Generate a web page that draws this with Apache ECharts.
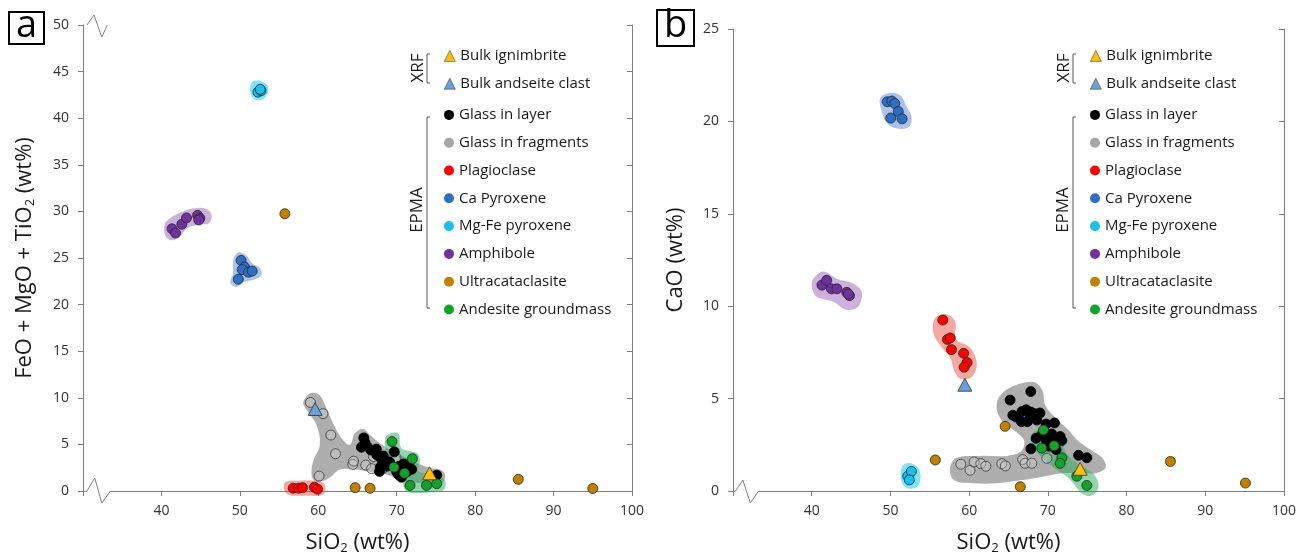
<!DOCTYPE html>
<html>
<head>
<meta charset="utf-8">
<script src="https://cdn.jsdelivr.net/npm/echarts@6/dist/echarts.min.js"></script>
<style>
  html, body { margin: 0; padding: 0; background: #fff; }
  #main { width: 1308px; height: 560px; }
</style>
</head>
<body>
<div id="main"></div>
<script>
// ---------- panel a : SiO2 vs FeO + MgO + TiO2 ----------
var a_ignimbrite    = [[74.2, 1.9]];
var a_andesiteClast = [[59.6, 8.8]];
var a_glassLayer = [[65.8, 5.7], [65.95, 5.2], [65.5, 4.7], [66.2, 4.8], [66.7, 4.4], [67.4, 4.5],
  [67.45, 3.9], [67.9, 3.6], [68.3, 3.75], [68.5, 3.25], [67.9, 2.55], [68.7, 2.65], [69.1, 3.1],
  [70.3, 2.65], [70.9, 2.9], [71.5, 2.65], [71.3, 2.05], [71.9, 2.33], [70.0, 2.05], [70.2, 1.77],
  [70.6, 1.48], [75.1, 1.7], [69.7, 4.2], [68.2, 3.0], [67.8, 2.1]];
var a_glassFrag = [[59.0, 9.5], [60.6, 8.3], [61.6, 6.0], [62.2, 4.0], [60.1, 1.6], [64.4, 2.85],
  [64.5, 3.2], [66.05, 2.78], [67.05, 3.7], [66.8, 2.4], [68.2, 2.4], [69.8, 3.4], [69.9, 3.6]];
var a_plag   = [[56.8, 0.3], [57.5, 0.3], [58.0, 0.35], [59.5, 0.4], [59.9, 0.2]];
var a_caPx   = [[50.16, 24.74], [50.6, 24.03], [50.3, 23.75], [51.1, 23.47], [51.57, 23.6], [49.8, 22.72]];
var a_mgFePx = [[52.3, 42.8], [52.7, 42.95], [52.6, 43.1]];
var a_amph   = [[41.35, 28.13], [41.8, 27.67], [42.6, 28.62], [43.2, 29.3], [44.6, 29.58], [44.9, 29.26], [44.76, 29.08]];
var a_ultra  = [[55.74, 29.75], [64.7, 0.36], [66.6, 0.29], [85.5, 1.25], [95.0, 0.27]];
var a_andGm  = [[69.4, 5.3], [69.65, 2.55], [71.0, 1.9], [72.0, 3.47], [71.7, 0.6], [73.8, 0.6], [75.1, 0.78]];

// outlines of the shaded fields, panel a
var a_hullGray = [[58.29, 9.9], [59.14, 10.53], [60.2, 10.25], [61.05, 8.84], [61.9, 7.25], [62.97, 5.66],
  [64.03, 4.95], [64.67, 6.19], [65.73, 6.65], [66.59, 6.01], [67.86, 5.13], [69.14, 4.42], [70.84, 3.71],
  [72.54, 3.01], [74.25, 2.48], [75.52, 2.3], [76.16, 1.77], [75.95, 1.0], [74.67, 0.71], [72.54, 0.89],
  [70.84, 1.06], [68.71, 1.77], [66.59, 2.05], [64.88, 2.3], [62.76, 2.3], [61.69, 1.59], [60.63, 1.06],
  [59.56, 1.06], [59.14, 1.77], [59.35, 3.18], [60.2, 4.95], [59.78, 7.07], [58.71, 8.48], [58.08, 9.37]];
var a_hullGreen = [[68.77, 6.01], [70.2, 6.19], [70.6, 4.6], [72.55, 4.07], [72.97, 3.18], [72.76, 2.12],
  [75.1, 1.77], [76.17, 1.06], [75.95, 0.07], [74.25, -0.17], [71.27, -0.07], [70.64, 1.06], [69.36, 2.12],
  [68.9, 3.54], [68.5, 4.95]];
var a_hullRed = [[55.6, 0.3], [55.9, 1.0], [57.5, 1.1], [59.5, 1.1], [60.6, 0.9], [60.9, 0.3], [60.6, -0.4], [58.5, -0.5], [56.2, -0.4]];
var a_hullBlue = [[49.2, 24.9], [49.8, 25.6], [50.8, 25.3], [51.6, 24.4], [52.6, 23.9], [52.7, 23.1], [51.5, 22.6],
  [50.4, 22.4], [49.6, 21.9], [48.8, 22.3], [49.1, 23.3]];
var a_hullCyan = [[51.3, 43.0], [51.6, 43.9], [52.6, 44.0], [53.5, 43.5], [53.6, 42.8], [52.9, 42.0], [51.8, 42.1]];
var a_hullPurple = [[40.4, 28.6], [41.0, 29.2], [42.5, 29.9], [44.0, 30.3], [45.6, 30.3], [46.4, 29.6], [46.0, 28.7],
  [44.8, 28.6], [43.3, 28.2], [42.3, 27.3], [41.3, 26.9], [40.5, 27.4]];

// ---------- panel b : SiO2 vs CaO ----------
var b_ignimbrite    = [[74.1, 1.2]];
var b_andesiteClast = [[59.45, 5.75]];
var b_glassLayer = [[67.83, 5.38], [65.2, 4.92], [65.55, 4.1], [65.97, 4.0], [66.7, 4.3], [67.24, 4.4],
  [67.84, 4.27], [67.75, 4.0], [68.38, 4.18], [69.0, 4.22], [66.65, 3.75], [67.4, 3.75], [68.6, 3.84],
  [69.78, 3.62], [70.84, 3.68], [70.5, 3.08], [71.56, 2.95], [71.78, 2.73], [69.78, 2.76], [68.5, 2.85],
  [67.84, 2.28], [70.2, 2.42], [71.05, 2.24], [73.9, 1.93], [74.95, 1.8], [69.23, 3.04], [70.7, 2.68]];
var b_glassFrag = [[58.94, 1.45], [60.12, 1.12], [60.63, 1.57], [61.48, 1.48], [62.12, 1.34], [64.15, 1.48],
  [64.6, 1.36], [66.8, 1.7], [67.1, 1.5], [67.96, 1.5], [69.87, 1.77]];
var b_plag   = [[56.65, 9.25], [57.24, 8.2], [57.6, 8.28], [57.75, 7.65], [59.3, 7.45], [59.74, 6.95], [59.36, 6.7]];
var b_caPx   = [[49.6, 21.06], [50.17, 21.1], [50.55, 20.97], [51.0, 20.53], [50.04, 20.18], [51.48, 20.14]];
var b_mgFePx = [[52.2, 0.8], [52.66, 1.06], [52.4, 0.6]];
var b_amph   = [[41.3, 11.14], [41.9, 11.4], [42.5, 10.94], [43.2, 10.94], [44.45, 10.75], [44.8, 10.57], [44.65, 10.66]];
var b_ultra  = [[55.7, 1.68], [64.57, 3.5], [66.5, 0.23], [85.57, 1.6], [95.1, 0.43]];
var b_andGm  = [[69.44, 3.3], [69.23, 2.32], [70.8, 2.45], [71.78, 1.8], [71.56, 1.5], [73.68, 0.8], [74.95, 0.3]];

var b_hullGray = [[63.72, 5.02], [65.21, 5.6], [68.17, 5.9], [69.3, 5.45], [69.7, 4.6], [71.14, 3.9],
  [72.62, 3.3], [73.68, 2.78], [75.38, 2.25], [76.9, 1.8], [77.35, 1.29], [76.22, 0.98], [74.11, 0.98],
  [71.56, 0.95], [69.02, 0.75], [66.48, 0.58], [63.51, 0.42], [60.55, 0.42], [58.1, 0.58], [57.55, 1.2],
  [58.35, 1.78], [61.39, 1.9], [64.78, 1.9], [66.6, 2.15], [67.0, 2.71], [66.1, 3.15], [64.4, 3.69], [63.55, 4.31]];
var b_hullGreen = [[68.39, 3.24], [70.29, 3.37], [71.78, 2.71], [72.41, 2.0], [74.11, 1.38], [75.8, 0.94],
  [76.44, 0.23], [75.59, -0.25], [74.32, -0.13], [73.26, 0.41], [72.2, 0.85], [70.93, 1.2], [69.45, 1.74],
  [68.17, 2.36], [67.84, 2.89]];
var b_hullRed = [[55.68, 9.36], [57.16, 9.57], [58.22, 9.18], [58.35, 8.21], [60.12, 7.76], [60.97, 6.88],
  [60.34, 6.17], [58.85, 6.08], [58.09, 6.52], [57.58, 7.23], [56.52, 7.76], [55.46, 8.56]];
var b_hullBlue = [[48.68, 21.24], [49.74, 21.52], [51.23, 21.42], [52.07, 20.79], [52.71, 20.17], [52.29, 19.68],
  [50.8, 19.61], [49.53, 19.91], [48.9, 20.53]];
var b_hullCyan = [[51.3, 0.9], [51.6, 1.4], [52.6, 1.5], [53.6, 1.2], [53.8, 0.6], [53.3, 0.2], [52.2, 0.15], [51.5, 0.4]];
var b_hullPurple = [[40.21, 11.49], [41.48, 11.88], [43.18, 11.49], [45.3, 11.22], [46.35, 10.78], [45.93, 9.98],
  [44.45, 9.8], [42.75, 10.24], [40.63, 10.51], [40.0, 11.04]];

var xTicks = [40, 50, 60, 70, 80, 90, 100];

var FONT = '"Open Sans", "Noto Sans", sans-serif';
var AXIS_GRAY = '#7f7f7f';

var chart = echarts.init(document.getElementById('main'));

function hull(grid, pts, color) {
  return {
    type: 'custom', xAxisIndex: grid * 2, yAxisIndex: grid * 2,
    z: 1, silent: true, clip: false,
    data: [pts[0]],
    renderItem: function (params, api) {
      var p = pts.map(function (d) { return api.coord(d); });
      return { type: 'polygon', shape: { points: p, smooth: 0.35 }, style: { fill: color } };
    }
  };
}

function dots(grid, name, data, color, border, symbol, size) {
  return {
    type: 'scatter', name: name, xAxisIndex: grid * 2, yAxisIndex: grid * 2,
    data: data, z: symbol === 'triangle' ? 6 : 4,
    symbol: symbol || 'circle', symbolSize: size || 10,
    itemStyle: { color: color, borderColor: border || '#262626', borderWidth: 0.8, opacity: 1 },
    emphasis: { disabled: true }
  };
}

function panelSeries(g, d) {
  return [
    hull(g, d.hullGray, 'rgba(110,110,110,0.56)'),
    hull(g, d.hullGreen, 'rgba(40,170,90,0.5)'),
    hull(g, d.hullRed, 'rgba(235,60,45,0.45)'),
    hull(g, d.hullBlue, 'rgba(60,110,200,0.42)'),
    hull(g, d.hullCyan, 'rgba(0,200,245,0.5)'),
    hull(g, d.hullPurple, 'rgba(130,70,170,0.42)'),
    dots(g, 'Glass in fragments', d.glassFrag, 'rgba(215,215,215,0.35)', '#3a3a3a'),
    dots(g, 'Glass in layer', d.glassLayer, '#000000', '#000000'),
    dots(g, 'Plagioclase', d.plag, '#ff0000'),
    dots(g, 'Ca Pyroxene', d.caPx, '#2e6fc6'),
    dots(g, 'Mg-Fe pyroxene', d.mgFePx, '#1cbfeb'),
    dots(g, 'Amphibole', d.amph, '#7030a0'),
    dots(g, 'Ultracataclasite', d.ultra, '#c08000'),
    dots(g, 'Andesite groundmass', d.andGm, '#14a32a'),
    dots(g, 'Bulk ignimbrite', d.ignimbrite, '#ffc000', '#333333', 'triangle', [14, 13]),
    dots(g, 'Bulk andseite clast', d.andesiteClast, '#6b9fd6', '#333333', 'triangle', [14, 13])
  ];
}

var series = panelSeries(0, {
  hullGray: a_hullGray, hullGreen: a_hullGreen, hullRed: a_hullRed, hullBlue: a_hullBlue,
  hullCyan: a_hullCyan, hullPurple: a_hullPurple, glassFrag: a_glassFrag, glassLayer: a_glassLayer,
  plag: a_plag, caPx: a_caPx, mgFePx: a_mgFePx, amph: a_amph, ultra: a_ultra, andGm: a_andGm,
  ignimbrite: a_ignimbrite, andesiteClast: a_andesiteClast
}).concat(panelSeries(1, {
  hullGray: b_hullGray, hullGreen: b_hullGreen, hullRed: b_hullRed, hullBlue: b_hullBlue,
  hullCyan: b_hullCyan, hullPurple: b_hullPurple, glassFrag: b_glassFrag, glassLayer: b_glassLayer,
  plag: b_plag, caPx: b_caPx, mgFePx: b_mgFePx, amph: b_amph, ultra: b_ultra, andGm: b_andGm,
  ignimbrite: b_ignimbrite, andesiteClast: b_andesiteClast
}));

var nameStyle = {
  fontFamily: FONT, fontSize: 22, color: '#1a1a1a',
  rich: { s: { fontFamily: FONT, fontSize: 13, color: '#1a1a1a', padding: [11, 0, 0, 0] } }
};
var labelStyle = { fontFamily: FONT, fontSize: 14, color: '#333', margin: 13 };

function xAxes(grid) {
  return [{
    type: 'value', gridIndex: grid, position: 'bottom', min: 30, max: 100, interval: 10,
    name: 'SiO{s|2} (wt%)', nameLocation: 'middle', nameGap: 40, nameTextStyle: nameStyle,
    axisLine: { lineStyle: { color: AXIS_GRAY } },
    axisTick: { show: true, length: 5, lineStyle: { color: AXIS_GRAY } },
    axisLabel: Object.assign({ formatter: function (v) { return xTicks.indexOf(v) >= 0 ? v : ''; } }, labelStyle),
    splitLine: { show: false }
  }, {
    type: 'value', gridIndex: grid, position: 'top', min: 30, max: 100, interval: 10,
    axisLine: { lineStyle: { color: AXIS_GRAY } },
    axisTick: { show: true, inside: true, length: 5, lineStyle: { color: AXIS_GRAY } },
    axisLabel: { show: false }, splitLine: { show: false }
  }];
}

function yAxes(grid, max, name) {
  return [{
    type: 'value', gridIndex: grid, position: 'left', min: 0, max: max, interval: 5,
    name: name, nameLocation: 'middle', nameGap: 46, nameTextStyle: nameStyle,
    axisLine: { show: true, lineStyle: { color: AXIS_GRAY } },
    axisTick: { show: true, length: 5, lineStyle: { color: AXIS_GRAY } },
    axisLabel: Object.assign({}, labelStyle, { margin: 14 }),
    splitLine: { show: false }
  }, {
    type: 'value', gridIndex: grid, position: 'right', min: 0, max: max, interval: 5,
    axisLine: { show: true, lineStyle: { color: AXIS_GRAY } },
    axisTick: { show: true, inside: true, length: 5, lineStyle: { color: AXIS_GRAY } },
    axisLabel: { show: false }, splitLine: { show: false }
  }];
}

var legendText = { fontFamily: FONT, fontSize: 15, color: '#1a1a1a', lineHeight: 27.8 };
var xrfItems = [
  { name: 'Bulk ignimbrite', icon: 'triangle', itemStyle: { borderWidth: 0.6, borderColor: '#444' } },
  { name: 'Bulk andseite clast', icon: 'triangle', itemStyle: { borderWidth: 0.6, borderColor: '#444' } }
];
var epmaItems = [
  { name: 'Glass in layer' },
  { name: 'Glass in fragments', itemStyle: { color: '#a6a6a6' } },
  { name: 'Plagioclase' }, { name: 'Ca Pyroxene' }, { name: 'Mg-Fe pyroxene' },
  { name: 'Amphibole' }, { name: 'Ultracataclasite' }, { name: 'Andesite groundmass' }
];

function legends(dx) {
  var base = {
    orient: 'vertical', padding: 0, itemGap: 0, itemWidth: 11, itemHeight: 11,
    selectedMode: false, textStyle: legendText, itemStyle: { borderWidth: 0 }
  };
  return [
    Object.assign({}, base, { left: 444 + dx, top: 42, data: xrfItems }),
    Object.assign({}, base, { left: 444 + dx, top: 101, itemWidth: 10, itemHeight: 10, data: epmaItems })
  ];
}

chart.setOption({
  animation: false,
  backgroundColor: '#fff',
  grid: [
    { left: 83, top: 25, width: 549, height: 472 },
    { left: 733, top: 29, width: 551, height: 470 }
  ],
  xAxis: xAxes(0).concat(xAxes(1)),
  yAxis: yAxes(0, 50, 'FeO + MgO + TiO{s|2} (wt%)').concat(yAxes(1, 25, 'CaO (wt%)')),
  legend: legends(0).concat(legends(646)),
  series: series
});

// decorations: axis breaks, group brackets, panel letters
function px(grid, x, y) {
  return chart.convertToPixel({ xAxisIndex: grid * 2, yAxisIndex: grid * 2 }, [x, y]);
}

function zigzag(grid, xs, yv, up, down) {
  var p0 = px(grid, xs[0], yv), p3 = px(grid, xs[3], yv);
  var p1 = px(grid, xs[1], yv), p2 = px(grid, xs[2], yv);
  return [{
    type: 'line', z: 100, silent: true,
    shape: { x1: p0[0], y1: p0[1], x2: p3[0], y2: p3[1] },
    style: { stroke: '#fff', lineWidth: 3 }
  }, {
    type: 'polyline', z: 101, silent: true,
    shape: { points: [[p0[0], p0[1]], [p1[0], p1[1] - up], [p2[0], p2[1] + down], [p3[0], p3[1]]] },
    style: { stroke: AXIS_GRAY, lineWidth: 1, fill: null }
  }];
}

function bracketGroup(dx) {
  var lineStyle = { stroke: '#555', lineWidth: 1, fill: null };
  return [
    { type: 'polyline', z: 100, silent: true, shape: { points: [[430 + dx, 54], [427 + dx, 54], [427 + dx, 83], [430 + dx, 83]] }, style: lineStyle },
    { type: 'polyline', z: 100, silent: true, shape: { points: [[430 + dx, 117], [427 + dx, 117], [427 + dx, 308], [430 + dx, 308]] }, style: lineStyle },
    { type: 'text', z: 100, silent: true, x: 418 + dx, y: 68, rotation: Math.PI / 2,
      style: { text: 'XRF', fontFamily: FONT, fontSize: 17, fill: '#1a1a1a', align: 'center', verticalAlign: 'middle' } },
    { type: 'text', z: 100, silent: true, x: 417 + dx, y: 210, rotation: Math.PI / 2,
      style: { text: 'EPMA', fontFamily: FONT, fontSize: 17, fill: '#1a1a1a', align: 'center', verticalAlign: 'middle' } }
  ];
}

function letterBox(x, y, w, h, letter) {
  return [
    { type: 'rect', z: 100, silent: true, shape: { x: x, y: y, width: w, height: h },
      style: { fill: '#fff', stroke: '#000', lineWidth: 2 } },
    { type: 'text', z: 101, silent: true, x: x + w / 2, y: y + h / 2 - 2,
      style: { text: letter, fontFamily: FONT, fontSize: 38, fill: '#000', align: 'center', verticalAlign: 'middle' } }
  ];
}

var deco = []
  .concat(zigzag(0, [30.5, 31.4, 32.4, 33.1], 50, 10, 12))
  .concat(zigzag(0, [30.5, 31.5, 32.4, 33.5], 0, 13, 12))
  .concat(zigzag(1, [30.3, 31.25, 32.2, 33.25], 0, 11, 12))
  .concat(bracketGroup(0))
  .concat(bracketGroup(646))
  .concat(letterBox(9, 12, 35, 32, 'a'))
  .concat(letterBox(657, 10, 37, 36, 'b'));

chart.setOption({ graphic: deco });
</script>
</body>
</html>
